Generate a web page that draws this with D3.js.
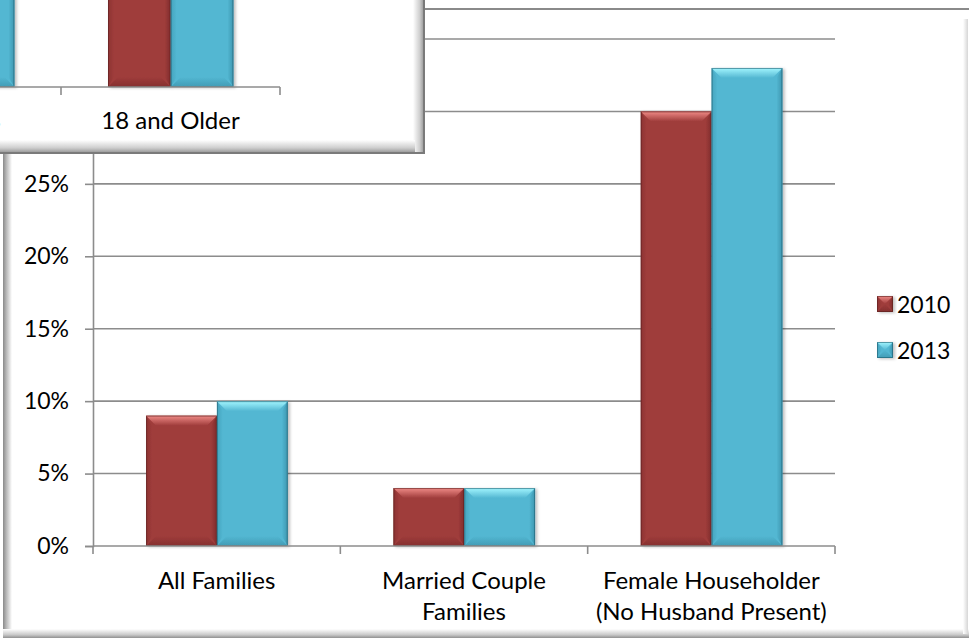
<!DOCTYPE html>
<html><head><meta charset="utf-8">
<script src="https://cdn.jsdelivr.net/npm/d3@7"></script>
<style>
body{margin:0;background:#fff}
svg{display:block}
text{font-family:Lato,"Open Sans",sans-serif;fill:#000}
</style>
</head><body>
<svg id="c" width="969" height="640"></svg>
<script>
// ---- data ----
const categories = ["All Families", "Married Couple Families", "Female Householder (No Husband Present)"];
const categoryLines = [["All Families"], ["Married Couple", "Families"], ["Female Householder", "(No Husband Present)"]];
const seriesNames = ["2010", "2013"];
const values2010 = [9, 4, 30];
const values2013 = [10, 4, 33];
const yTicks = [0, 5, 10, 15, 20, 25, 30, 35];

const insetCategories = ["Under 18", "18 and Older"];
const insetValues2010 = [22, 11];
const insetValues2013 = [23, 12];

const colors = {
  "2010": {base: "#9f3c3b", light: "#f08b87", dark: "#6a2322", edge: "#5a1f1e"},
  "2013": {base: "#53b7d2", light: "#a3f6ff", dark: "#2f8098", edge: "#1e5e70"}
};

const svg = d3.select("#c");
const defs = svg.append("defs");

seriesNames.forEach(s => {
  const c = colors[s];
  const mk = (id, x2, y2, a, b) => {
    const g = defs.append("linearGradient").attr("id", id + s).attr("x1", 0).attr("y1", 0).attr("x2", x2).attr("y2", y2);
    g.append("stop").attr("offset", "0%").attr("stop-color", a);
    g.append("stop").attr("offset", "100%").attr("stop-color", b);
  };
  mk("top", 0, 1, c.light, c.base);
  mk("bot", 0, 1, c.base, c.dark);
  mk("lef", 1, 0, c.dark, c.base);
  mk("rig", 1, 0, c.base, c.dark);
});
const sh = defs.append("filter").attr("id", "shadow").attr("x", "-20%").attr("y", "-20%").attr("width", "140%").attr("height", "140%");
sh.append("feDropShadow").attr("dx", 2).attr("dy", 1).attr("stdDeviation", 1.5).attr("flood-color", "#000").attr("flood-opacity", 0.25);

function grad(id, x2, y2, stops) {
  const g = defs.append("linearGradient").attr("id", id).attr("x1", 0).attr("y1", 0).attr("x2", x2).attr("y2", y2);
  stops.forEach(([o, col]) => g.append("stop").attr("offset", o).attr("stop-color", col));
}
grad("fl", 1, 0, [["0%", "#8a8a8a"], ["35%", "#b5b5b5"], ["100%", "#ffffff"]]);
grad("fb", 0, 1, [["0%", "#ffffff"], ["65%", "#c8c8c8"], ["100%", "#909090"]]);
grad("fr", 1, 0, [["0%", "#ffffff"], ["100%", "#d6d6d6"]]);
grad("ir", 1, 0, [["0%", "#ffffff"], ["55%", "#cfcfcf"], ["80%", "#a8a8a8"], ["100%", "#808080"]]);
grad("ib", 0, 1, [["0%", "#ffffff"], ["55%", "#cfcfcf"], ["80%", "#a8a8a8"], ["100%", "#808080"]]);

function bevelBar(g, x, y, w, h, s) {
  const c = colors[s];
  const b = Math.min(10, h / 2, w / 2);
  const bg = g.append("g").attr("filter", "url(#shadow)");
  bg.append("rect").attr("x", x).attr("y", y).attr("width", w).attr("height", h).attr("fill", c.base);
  const poly = (pts, fill) => bg.append("polygon").attr("points", pts.map(p => p.join(",")).join(" ")).attr("fill", fill);
  poly([[x, y], [x + b * 0.6, y + b], [x + b * 0.6, y + h - b], [x, y + h]], `url(#lef${s})`).attr("opacity", 0.35);
  poly([[x + w, y], [x + w - b * 0.6, y + b], [x + w - b * 0.6, y + h - b], [x + w, y + h]], `url(#rig${s})`).attr("opacity", 0.6);
  poly([[x, y + h], [x + w, y + h], [x + w - b, y + h - b], [x + b, y + h - b]], `url(#bot${s})`).attr("opacity", 0.5);
  poly([[x, y], [x + w, y], [x + w - b, y + b], [x + b, y + b]], `url(#top${s})`);
  bg.append("rect").attr("x", x + 0.5).attr("y", y + 0.5).attr("width", w - 1).attr("height", h - 1)
    .attr("fill", "none").attr("stroke", c.edge).attr("stroke-width", 1).attr("stroke-opacity", 0.6);
}

// ---- main chart ----
const M = {left: 93, right: 835, top: 39, bottom: 546};
const x = d3.scaleBand().domain(categories).range([M.left, M.right]).padding(0);
const xs = d3.scaleBand().domain(seriesNames).range([0.2146, 0.7874]).padding(0);
const y = d3.scaleLinear().domain([0, 35]).range([M.bottom, M.top]);
const gridColor = "#8c8c8c";

svg.append("line").attr("x1", 0).attr("x2", 969).attr("y1", 9).attr("y2", 9).attr("stroke", "#8a8a8a").attr("stroke-width", 2);
svg.append("rect").attr("x", 3).attr("y", 9).attr("width", 9).attr("height", 629).attr("fill", "url(#fl)");
svg.append("rect").attr("x", 3).attr("y", 629).attr("width", 966).attr("height", 9).attr("fill", "url(#fb)");
svg.append("rect").attr("x", 963).attr("y", 19).attr("width", 5).attr("height", 615).attr("fill", "url(#fr)");

svg.append("g").selectAll("line").data(yTicks.filter(t => t > 0)).join("line")
  .attr("x1", M.left).attr("x2", M.right).attr("y1", d => y(d)).attr("y2", d => y(d))
  .attr("stroke", gridColor).attr("stroke-width", 1.6);

const yAxis = svg.append("g").attr("transform", `translate(${M.left},0)`)
  .call(d3.axisLeft(y).tickValues(yTicks).tickFormat(d => d + "%").tickSize(8).tickPadding(16));
yAxis.select(".domain").attr("stroke", gridColor).attr("stroke-width", 1.6);
yAxis.selectAll(".tick line").attr("stroke", gridColor).attr("stroke-width", 1.6);
yAxis.selectAll(".tick text").attr("font-size", 23).attr("font-family", "Lato").attr("fill", "#000");

const barsG = svg.append("g");
const vals = {"2010": values2010, "2013": values2013};
categories.forEach((cat, i) => {
  seriesNames.forEach(s => {
    const bw = x.bandwidth();
    const bx = x(cat) + xs(s) * bw;
    const w = xs.bandwidth() * bw;
    bevelBar(barsG, bx, y(vals[s][i]), w, y(0) - y(vals[s][i]), s);
  });
});

svg.append("line").attr("x1", M.left).attr("x2", M.right).attr("y1", y(0)).attr("y2", y(0)).attr("stroke", gridColor).attr("stroke-width", 1.6);
const bounds = categories.map(c => x(c)).concat([x(categories[categories.length - 1]) + x.bandwidth()]);
svg.append("g").selectAll("line").data(bounds).join("line")
  .attr("x1", d => d).attr("x2", d => d).attr("y1", y(0)).attr("y2", y(0) + 8)
  .attr("stroke", gridColor).attr("stroke-width", 1.6);
categories.forEach((cat, i) => {
  const t = svg.append("text").attr("x", x(cat) + x.bandwidth() / 2).attr("y", 589)
    .attr("text-anchor", "middle").attr("font-size", 24);
  categoryLines[i].forEach((ln, j) => t.append("tspan").attr("x", x(cat) + x.bandwidth() / 2).attr("dy", j === 0 ? 0 : 31).text(ln));
});

// legend
const lg = svg.append("g");
seriesNames.forEach((s, i) => {
  const ly = 304 + i * 46;
  const ls = 16;
  bevelBar(lg, 877, ly - ls / 2, ls, ls, s);
  lg.append("text").attr("x", 897).attr("y", ly + 8.5).attr("font-size", 23).text(s);
});

// ---- inset chart (overlapping top-left) ----
const ins = svg.append("g");
ins.append("rect").attr("x", -10).attr("y", -10).attr("width", 423).attr("height", 150).attr("fill", "#fff");
ins.append("rect").attr("x", 413).attr("y", -10).attr("width", 12).attr("height", 164).attr("fill", "url(#ir)");
ins.append("rect").attr("x", -10).attr("y", 140).attr("width", 425).attr("height", 14).attr("fill", "url(#ib)");
ins.append("line").attr("x1", 424).attr("x2", 424).attr("y1", -10).attr("y2", 154).attr("stroke", "#7a7a7a").attr("stroke-width", 2);
ins.append("line").attr("x1", -10).attr("x2", 425).attr("y1", 153).attr("y2", 153).attr("stroke", "#7a7a7a").attr("stroke-width", 2);

const ix = d3.scaleBand().domain(insetCategories).range([-158, 280]).padding(0);
const iy = d3.scaleLinear().domain([0, 30]).range([87, -330]);
const ivals = {"2010": insetValues2010, "2013": insetValues2013};
insetCategories.forEach((cat, i) => {
  seriesNames.forEach(s => {
    const bw = ix.bandwidth();
    const bx = ix(cat) + xs(s) * bw;
    const w = xs.bandwidth() * bw;
    bevelBar(ins, bx, iy(ivals[s][i]), w, iy(0) - iy(ivals[s][i]), s);
  });
});
ins.append("line").attr("x1", -158).attr("x2", 280).attr("y1", iy(0)).attr("y2", iy(0)).attr("stroke", gridColor).attr("stroke-width", 1.6);
const ibounds = insetCategories.map(c => ix(c)).concat([ix(insetCategories[insetCategories.length - 1]) + ix.bandwidth()]);
ins.append("g").selectAll("line").data(ibounds).join("line")
  .attr("x1", d => d).attr("x2", d => d).attr("y1", iy(0)).attr("y2", iy(0) + 8)
  .attr("stroke", gridColor).attr("stroke-width", 1.6);
ins.selectAll(".ilab").data(insetCategories).join("text").attr("class", "ilab")
  .attr("x", d => ix(d) + ix.bandwidth() / 2).attr("y", 129).attr("text-anchor", "middle")
  .attr("font-size", 24).text(d => d);
</script>
</body></html>
